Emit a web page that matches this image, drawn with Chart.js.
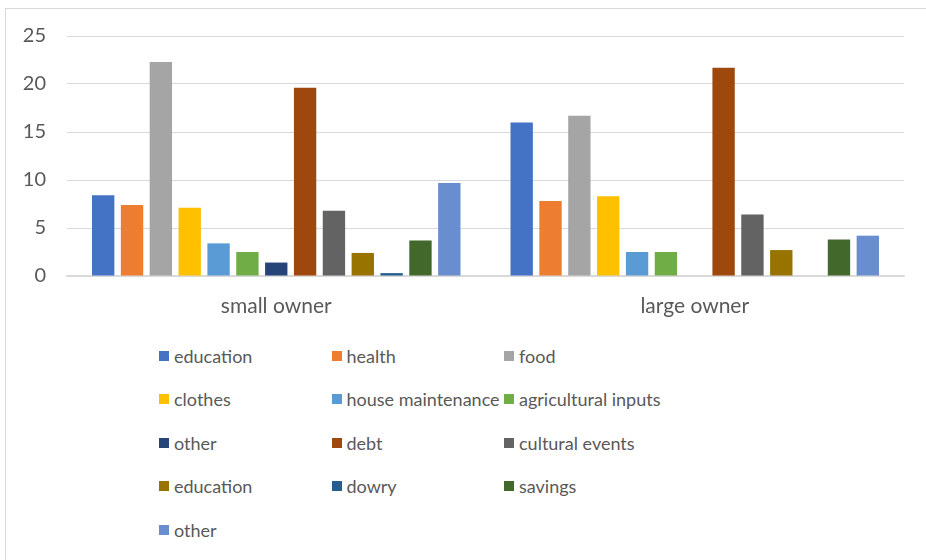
<!DOCTYPE html>
<html>
<head>
<meta charset="utf-8">
<script src="https://cdn.jsdelivr.net/npm/chart.js@4/dist/chart.umd.min.js"></script>
<style>
  body { margin: 0; background: #fff; }
  #wrap { position: relative; width: 926px; height: 560px; overflow: hidden; font-family: Lato, 'Open Sans', sans-serif; }
  #frame { position: absolute; left: 5px; top: 8px; width: 940px; height: 600px; border-top: 1px solid #d9d9d9; border-left: 1px solid #d9d9d9; }
  #chart { position: absolute; left: 0; top: 0; }
  #legend { position: absolute; left: 159px; top: 334px; display: grid; grid-template-columns: 172.5px 172.5px 172.5px; grid-auto-rows: 43.5px; }
  .item { display: flex; align-items: center; height: 43.5px; color: #595959; font-size: 18px; white-space: nowrap; }
  .sw { width: 10px; height: 10px; margin-right: 5px; flex: none; }
</style>
</head>
<body>
<div id="wrap">
  <div id="frame"></div>
  <canvas id="chart" width="926" height="320"></canvas>
  <div id="legend"></div>
</div>
<script>
const owners = ['small owner', 'large owner'];
const spendLabels = ['education', 'health', 'food', 'clothes', 'house maintenance', 'agricultural inputs',
  'other', 'debt', 'cultural events', 'education', 'dowry', 'savings', 'other'];
const smallOwner = [8.4, 7.4, 22.3, 7.1, 3.4, 2.5, 1.4, 19.6, 6.8, 2.4, 0.3, 3.7, 9.7];
const largeOwner = [16.0, 7.8, 16.7, 8.3, 2.5, 2.5, 0, 21.7, 6.4, 2.7, 0, 3.8, 4.2];
const yTicks = [0, 5, 10, 15, 20, 25];
const colors = ['#4472C4', '#ED7D31', '#A5A5A5', '#FFC000', '#5B9BD5', '#70AD47',
  '#264478', '#9E480E', '#636363', '#997300', '#255E91', '#43682B', '#698ED0'];

const datasets = spendLabels.map((label, i) => ({
  label: label,
  data: [smallOwner[i], largeOwner[i]],
  backgroundColor: colors[i],
  categoryPercentage: 0.896,
  barPercentage: 0.775
}));

const chart = new Chart(document.getElementById('chart'), {
  type: 'bar',
  data: { labels: owners, datasets: datasets },
  options: {
    responsive: false,
    animation: false,
    devicePixelRatio: 1,
    layout: { padding: { left: 0, right: 22, top: 36, bottom: 0 } },
    plugins: { legend: { display: false }, tooltip: { enabled: false } },
    scales: {
      x: {
        grid: { display: false, drawTicks: false },
        border: { display: true, color: '#d9d9d9', width: 1.5 },
        ticks: { color: '#595959', font: { family: 'Lato', size: 21 }, padding: 18 },
        afterFit: s => { s.height = 44; }
      },
      y: {
        min: 0, max: 25,
        afterBuildTicks: s => { s.ticks = yTicks.map(v => ({ value: v })); },
        grid: { color: '#d9d9d9', drawTicks: false },
        border: { display: false },
        ticks: { color: '#595959', font: { family: 'Lato', size: 20 }, padding: 21 },
        afterFit: s => { s.width = 67; }
      }
    }
  }
});

// legend in a fixed three-column grid, built from the chart's datasets
const legend = document.getElementById('legend');
chart.data.datasets.forEach(ds => {
  const item = document.createElement('div');
  item.className = 'item';
  const sw = document.createElement('span');
  sw.className = 'sw';
  sw.style.background = ds.backgroundColor;
  item.appendChild(sw);
  item.appendChild(document.createTextNode(ds.label));
  legend.appendChild(item);
});
</script>
</body>
</html>
